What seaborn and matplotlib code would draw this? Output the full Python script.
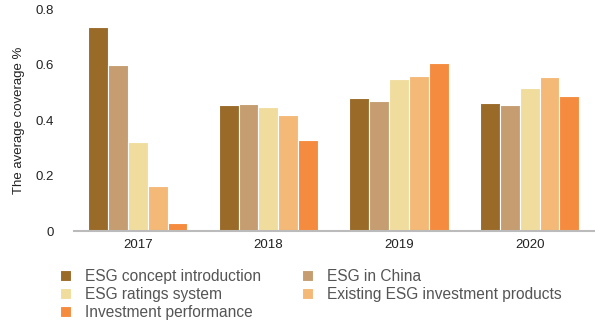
import matplotlib
matplotlib.use("Agg")
import matplotlib.pyplot as plt
import seaborn as sns
import pandas as pd

years = ["2017", "2018", "2019", "2020"]
topics = [
    "ESG concept introduction",
    "ESG in China",
    "ESG ratings system",
    "Existing ESG investment products",
    "Investment performance",
]
concept_intro = [0.736, 0.453, 0.481, 0.463]
esg_china = [0.600, 0.459, 0.469, 0.453]
ratings_system = [0.321, 0.448, 0.549, 0.515]
existing_products = [0.164, 0.419, 0.560, 0.555]
inv_performance = [0.028, 0.328, 0.607, 0.486]
colors = ["#9A6A29", "#C59D70", "#F0DD9E", "#F4B977", "#F58B3F"]

series = [concept_intro, esg_china, ratings_system, existing_products, inv_performance]
df = pd.DataFrame(
    [(y, t, v) for t, vals in zip(topics, series) for y, v in zip(years, vals)],
    columns=["year", "topic", "coverage"],
)

sns.set_theme(style="white")
plt.rcParams["font.family"] = ["Liberation Sans", "DejaVu Sans"]

fig = plt.figure(figsize=(5.95, 3.24), dpi=100)
ax = fig.add_axes([0.124, 0.287, 0.876, 0.685])

sns.barplot(
    data=df, x="year", y="coverage", hue="topic", hue_order=topics,
    order=years, palette=colors, saturation=1, width=0.76, edgecolor="white",
    linewidth=0.8, ax=ax, legend=True,
)

ax.set_xlim(-0.49, 3.5)
ax.set_ylim(0, 0.8)
ax.set_yticks([0, 0.2, 0.4, 0.6, 0.8])
ax.set_yticklabels(["0", "0.2", "0.4", "0.6", "0.8"])
ax.tick_params(axis="both", length=0, labelsize=9.5, colors="#222222")
ax.tick_params(axis="y", pad=14)
ax.tick_params(axis="x", pad=6)
ax.set_xlabel("")
ax.set_ylabel("The average coverage %", fontsize=9.5, color="#222222", labelpad=8)
for side in ["top", "right", "left"]:
    ax.spines[side].set_visible(False)
ax.spines["bottom"].set_color("#BBBBBB")
ax.spines["bottom"].set_linewidth(1.5)

handles, labels = ax.get_legend_handles_labels()
ax.legend_.remove()
order = [0, 2, 4, 1, 3]
leg = fig.legend(
    [handles[i] for i in order], [labels[i] for i in order],
    loc="upper left", bbox_to_anchor=(0.1, 0.17), ncol=2, frameon=False,
    fontsize=11.2, handlelength=0.75, handleheight=0.75, handletextpad=0.9,
    columnspacing=2.6, labelspacing=0.2, borderpad=0, borderaxespad=0,
)
for t in leg.get_texts():
    t.set_color("#555555")

fig.savefig("out.png", dpi=100)
